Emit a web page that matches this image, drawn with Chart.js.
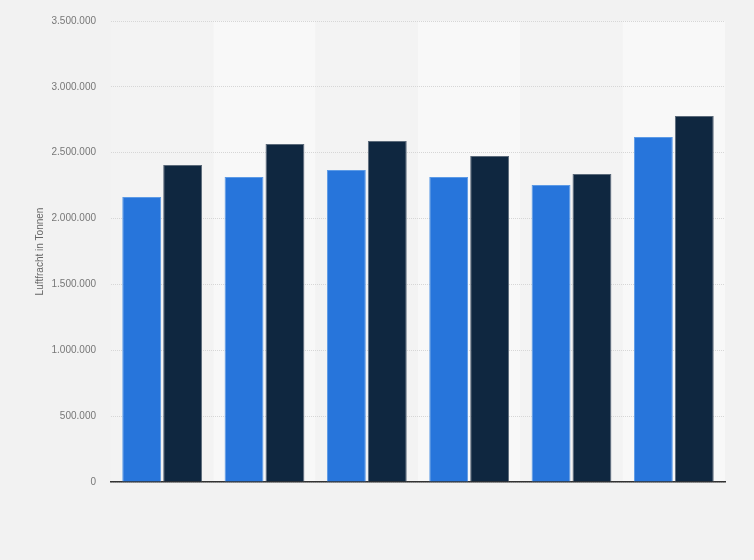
<!DOCTYPE html>
<html>
<head>
<meta charset="utf-8">
<script src="https://cdn.jsdelivr.net/npm/chart.js@4"></script>
<style>
  html, body { margin: 0; padding: 0; background: #f2f2f2; }
  #wrap { width: 754px; height: 560px; position: relative; }
</style>
</head>
<body>
<div id="wrap"><canvas id="freightChart"></canvas></div>
<script>
// categories are not labelled in the picture, so the names stay hidden
const categories = ['1', '2', '3', '4', '5', '6'];
const seriesA = [2164000, 2316000, 2369000, 2316000, 2255000, 2619000];
const seriesB = [2407000, 2566000, 2589000, 2475000, 2338000, 2779000];
const yTicks = [0, 500000, 1000000, 1500000, 2000000, 2500000, 3000000, 3500000];

function formatDe(v) {
  return String(v).replace(/\B(?=(\d{3})+(?!\d))/g, '.');
}

// alternating column backgrounds behind each category (drawn before the grid)
const bandPlugin = {
  id: 'bands',
  beforeDraw(chart) {
    const { ctx, chartArea, scales } = chart;
    const x = scales.x;
    const step = (chartArea.right - chartArea.left) / categories.length;
    ctx.save();
    categories.forEach((c, i) => {
      const center = x.getPixelForValue(i);
      ctx.fillStyle = i % 2 === 1 ? '#f8f8f8' : '#f3f3f3';
      ctx.fillRect(center - step / 2, chartArea.top, step, chartArea.bottom - chartArea.top);
    });
    ctx.restore();
  }
};

const ctx = document.getElementById('freightChart').getContext('2d');
new Chart(ctx, {
  type: 'bar',
  data: {
    labels: categories,
    datasets: [
      {
        data: seriesA,
        backgroundColor: '#2775db',
        borderColor: '#5c9ae6',
        borderWidth: 1,
        categoryPercentage: 0.8,
        barPercentage: 0.95
      },
      {
        data: seriesB,
        backgroundColor: '#0f2740',
        borderColor: '#5b6a7a',
        borderWidth: 1,
        categoryPercentage: 0.8,
        barPercentage: 0.95
      }
    ]
  },
  options: {
    responsive: true,
    maintainAspectRatio: false,
    animation: false,
    layout: { padding: { left: 0, right: 29, top: 20, bottom: 70 } },
    scales: {
      x: {
        ticks: { display: false },
        grid: { display: false },
        border: { display: true, color: '#333333', width: 1.5 }
      },
      y: {
        min: 0,
        max: 3500000,
        afterFit(scale) { scale.width = 111; },
        afterBuildTicks(scale) { scale.ticks = yTicks.map(v => ({ value: v })); },
        ticks: {
          padding: 15,
          color: '#777777',
          font: { family: 'Liberation Sans', size: 10 },
          callback: v => formatDe(v)
        },
        grid: { color: '#d6d6d6', drawTicks: false, lineWidth: 1 },
        border: { display: false, dash: [1, 1] },
        title: {
          display: true,
          text: 'Luftfracht in Tonnen',
          color: '#666666',
          font: { family: 'Liberation Sans', size: 10 },
          padding: { top: 34, bottom: 0 }
        }
      }
    },
    plugins: {
      legend: { display: false },
      tooltip: { enabled: false }
    }
  },
  plugins: [bandPlugin]
});
</script>
</body>
</html>
